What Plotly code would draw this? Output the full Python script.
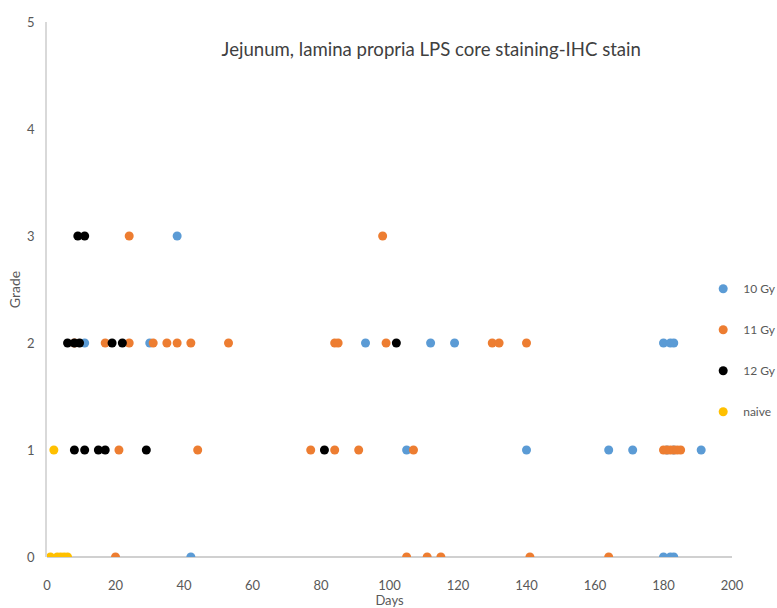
import plotly.graph_objects as go

# 10 Gy
gy10_days = [42, 180, 182, 183, 105, 140, 164, 171, 181, 183, 191, 11, 30, 93, 112, 119, 180, 182, 183, 38]
gy10_grade = [0, 0, 0, 0, 1, 1, 1, 1, 1, 1, 1, 2, 2, 2, 2, 2, 2, 2, 2, 3]
# 11 Gy
gy11_days = [20, 105, 111, 115, 141, 164,
             21, 44, 77, 84, 91, 107, 180, 181, 182, 183, 184, 185,
             8, 17, 24, 31, 35, 38, 42, 53, 84, 85, 99, 130, 132, 140,
             24, 98]
gy11_grade = [0, 0, 0, 0, 0, 0,
              1, 1, 1, 1, 1, 1, 1, 1, 1, 1, 1, 1,
              2, 2, 2, 2, 2, 2, 2, 2, 2, 2, 2, 2, 2, 2,
              3, 3]
# 12 Gy
gy12_days = [8, 11, 15, 17, 29, 81, 6, 8, 9.5, 19, 22, 102, 9, 11]
gy12_grade = [1, 1, 1, 1, 1, 1, 2, 2, 2, 2, 2, 2, 3, 3]
# naive
naive_days = [1, 3, 4, 5, 6, 2]
naive_grade = [0, 0, 0, 0, 0, 1]

series = [
    ("10 Gy", gy10_days, gy10_grade, "#5B9BD5"),
    ("11 Gy", gy11_days, gy11_grade, "#ED7D31"),
    ("12 Gy", gy12_days, gy12_grade, "#000000"),
    ("naive", naive_days, naive_grade, "#FFC000"),
]

FONT = "Lato, Open Sans, sans-serif"
GRAY = "#595959"

fig = go.Figure()
for name, xs, ys, col in series:
    fig.add_trace(go.Scatter(
        x=xs, y=ys, mode="markers", name=name, legendgroup=name,
        marker=dict(color=col, size=9, line=dict(width=0)),
    ))

fig.update_layout(
    width=777, height=608,
    margin=dict(l=47, r=45, t=22, b=51, autoexpand=False),
    paper_bgcolor="white", plot_bgcolor="white",
    font=dict(family=FONT, color=GRAY, size=13),
    title=dict(text="Jejunum, lamina propria LPS core staining-IHC stain",
               xref="paper", x=0.561, xanchor="center",
               yref="container", y=0.918, yanchor="middle",
               font=dict(family=FONT, size=18.6, color="#404040")),
    showlegend=True,
    legend=dict(xref="container", x=0.905, xanchor="left",
                yref="container", y=0.549, yanchor="top",
                tracegroupgap=22, font=dict(size=12, color=GRAY),
                bgcolor="rgba(0,0,0,0)", itemwidth=30),
    xaxis=dict(range=[0, 200], dtick=20, showgrid=False, zeroline=False,
               showline=False, ticks="", ticklabelstandoff=19, automargin=False,
               tickfont=dict(color=GRAY),
               title=dict(text="Days", standoff=6, font=dict(size=13, color=GRAY))),
    yaxis=dict(range=[0, 5], dtick=1, showgrid=False, zeroline=True,
               zerolinecolor="#d0d0d0", zerolinewidth=1.5,
               showline=True, linecolor="#d9d9d9", linewidth=1.5,
               ticks="", ticklabelstandoff=8, automargin=False,
               tickfont=dict(color=GRAY),
               title=dict(text="Grade", standoff=3, font=dict(size=14, color=GRAY))),
)

fig.write_html("out.html", config={"displayModeBar": False},
               post_script="document.body.style.margin='0';")
